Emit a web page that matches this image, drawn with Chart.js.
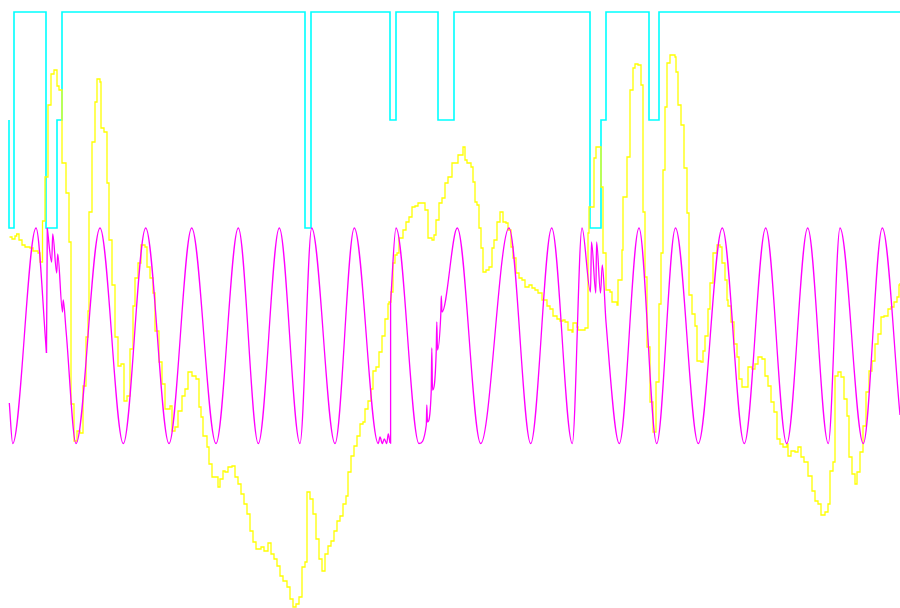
<!DOCTYPE html>
<html>
<head>
<meta charset="utf-8">
<script src="https://cdn.jsdelivr.net/npm/chart.js@4/dist/chart.umd.min.js"></script>
<style>
  html, body { margin: 0; padding: 0; background: #ffffff; }
  #chart { display: block; }
</style>
</head>
<body>
<canvas id="chart" width="900" height="608"></canvas>
<script>
// cyan step trace: switch positions and the level held after each switch
const cyanT     = [9, 9, 14, 46, 57, 62, 305, 311, 390, 396, 438, 454, 590, 601, 606, 649, 659, 900];
const cyanLevel = [120, 228, 12, 228, 120, 12, 228, 12, 120, 12, 120, 12, 228, 120, 12, 120, 12, 12];

// yellow noisy staircase
const yelX = [9.5, 12, 15, 16.7, 19, 22, 25, 30, 33, 38, 40, 42.5, 45, 48, 51, 54, 57, 59, 62, 66, 69, 71, 74, 77, 80, 83, 86, 88,
  89, 92, 95, 97, 100, 101, 104, 107, 109, 112, 115, 118, 121, 124, 127, 130, 133, 135, 138, 141, 145, 147, 150, 153, 155, 159,
  162, 165, 170, 172, 175, 178, 182, 185, 188, 192, 196, 199, 201, 203, 207, 209, 212, 215, 218, 220, 223, 225, 228, 232, 235,
  238, 241, 244, 247, 250, 253, 256, 261, 264, 268, 271, 274, 277, 280, 283, 287, 290, 293, 296, 299, 302, 305, 307, 310, 313,
  316, 319, 322, 325, 328, 331, 334, 337, 340, 343, 346, 348, 351, 354, 357, 360, 363, 365, 368, 371, 373, 376, 379, 382, 385,
  388, 389, 391, 393, 395, 397, 399, 401, 403, 406, 409, 412, 415, 418, 421, 425, 428, 432, 434, 436, 439, 442, 445, 448, 450,
  452, 456, 458, 461, 463, 465, 467, 471, 473, 475, 477, 479, 481, 483, 486, 489, 492, 494, 497, 500, 503, 506, 508, 511, 513,
  516, 519, 522, 525, 529, 532, 535, 538, 542, 547, 550, 553, 557, 560, 563, 565, 568, 572, 573, 577, 578, 585, 588, 589, 591,
  594, 596, 599, 601, 603, 606, 610, 612, 617, 618, 622, 623, 627, 630, 633, 635, 638, 641, 643, 645, 647, 650, 653, 656, 659,
  661, 663, 665, 667, 670, 675, 676, 678, 681, 684, 687, 689, 692, 695, 697, 701, 703, 705, 708, 710, 713, 717, 720, 722, 725,
  727, 728, 731, 734, 737, 739, 742, 745, 748, 752, 755, 758, 762, 765, 768, 771, 774, 777, 780, 783, 787, 788, 791, 795, 798,
  801, 804, 808, 812, 815, 818, 821, 825, 828, 830, 833, 835, 838, 841, 844, 847, 849, 852, 855, 857, 860, 863, 866, 869, 872,
  875, 878, 881, 884, 888, 891, 894, 897, 899, 900];
const yelY = [237, 239, 236, 234, 240, 245, 247, 248, 251, 253, 262, 221, 177, 105, 74, 70, 86, 90, 163, 193, 242, 404, 441, 431, 433, 386, 337, 311,
  212, 142, 102, 79, 82, 128, 132, 183, 240, 285, 337, 366, 364, 401, 396, 349, 306, 278, 263, 245, 247, 267, 278, 293, 331, 362,
  384, 409, 406, 431, 427, 411, 396, 389, 372, 376, 379, 407, 417, 436, 447, 464, 477, 477, 487, 479, 471, 472, 467, 466, 477,
  484, 494, 504, 514, 531, 542, 549, 547, 551, 543, 554, 559, 566, 576, 581, 587, 599, 607, 604, 597, 567, 562, 492, 499, 514,
  539, 559, 571, 554, 546, 541, 531, 521, 516, 504, 496, 472, 456, 446, 436, 424, 422, 409, 401, 389, 371, 367, 352, 336, 319,
  304, 302, 292, 263, 255, 253, 238, 238, 230, 222, 217, 207, 206, 203, 203, 210, 238, 240, 235, 220, 203, 198, 183, 177, 177,
  163, 163, 155, 155, 147, 160, 163, 167, 182, 202, 205, 228, 248, 272, 270, 267, 248, 240, 222, 212, 222, 223, 230, 247, 258,
  273, 278, 280, 287, 285, 288, 290, 293, 300, 306, 309, 316, 319, 321, 320, 322, 330, 332, 323, 327, 330, 328, 233, 207, 207,
  158, 147, 147, 187, 253, 290, 292, 302, 305, 280, 250, 197, 157, 90, 68, 64, 65, 85, 212, 277, 347, 402, 432, 382, 304,
  253, 170, 107, 63, 55, 57, 72, 105, 125, 168, 213, 295, 314, 326, 361, 362, 351, 336, 309, 283, 253, 245, 247, 263, 280,
  300, 306, 322, 344, 357, 379, 387, 387, 367, 369, 364, 357, 359, 376, 386, 402, 412, 439, 444, 447, 444, 456, 451, 452, 447,
  457, 462, 476, 491, 501, 504, 515, 512, 504, 471, 462, 376, 372, 377, 399, 416, 457, 474, 484, 472, 452, 426, 392, 371, 361,
  344, 334, 317, 316, 309, 307, 302, 297, 285, 283];

// magenta wave: crests / troughs and glitches, null = break where the trace jumps
const magX = [9.3, 12.7, 36, 46.5, null,
  47.3, 51.7, 52.7, 56.7, 57.7, 62.5, 63.2, 66, 76, 100, 123.3, 145.7, 169, 191.7, 216, 238.3, 258.3, 279.3, 300, 311.7, 335, 354.3,
  378.3, 380, 382.3, 384.3, 386.7, 388.3, 390, null,
  390.6, 396, 419, 426.3, 426.8, 427.5, 431.2, 431.8, 432.5, 436.2, 436.8, 437.5, 440.8, 441.3, 442, 457.3, 480.7, 509, 530.7,
  551.7, 572.3, 582, 590.5, 591.5, 595.8, 596.6, 600.5, 602.3, 606, 619.3, 639, 656.7, 675.5, 698.3, 722.3, 744.3, 765.7, 786.7,
  807.7, 828.3, 840, 863.3, 882.3, 900];
const magY = [403, 443.5, 228, 353, null,
  228, 262, 234, 273, 254, 312, 300, 330, 443.5, 228, 443.5, 228, 443.5, 228, 443.5, 228, 443.5, 228, 443.5, 228, 443.5, 228,
  443.5, 437, 443.5, 439, 443.5, 434, 443, null,
  302, 228, 443.5, 425, 405, 422, 392, 348, 390, 352, 322, 350, 314, 296, 312, 228, 443.5, 228, 443.5,
  228, 443.5, 228, 292, 242, 293, 242, 293, 265, 322, 443.5, 228, 443.5, 228, 443.5, 228, 443.5, 228, 443.5,
  228, 443.5, 228, 443.5, 228, 415];

// straight jumps of the magenta trace
const jumpX = [46.5, 47.3, null, 390, 390.6];
const jumpY = [353, 228, null, 443, 302];

function toPoints(xs, ys) {
  return xs.map((x, i) => ({ x: x === null ? xs[i - 1] + 0.1 : x, y: ys[i] }));
}

const ctx = document.getElementById('chart').getContext('2d');
new Chart(ctx, {
  type: 'line',
  data: {
    datasets: [
      {
        data: toPoints(magX, magY),
        borderColor: '#ff00ff',
        borderWidth: 1.3,
        cubicInterpolationMode: 'monotone',
        spanGaps: false,
        pointRadius: 0
      },
      {
        data: toPoints(jumpX, jumpY),
        borderColor: '#ff00ff',
        borderWidth: 1.3,
        tension: 0,
        spanGaps: false,
        pointRadius: 0
      },
      {
        data: toPoints(yelX, yelY),
        borderColor: '#ffff00',
        borderWidth: 1.3,
        stepped: 'before',
        pointRadius: 0
      },
      {
        data: toPoints(cyanT, cyanLevel),
        borderColor: '#00ffff',
        borderWidth: 1.6,
        stepped: 'before',
        pointRadius: 0
      }
    ]
  },
  options: {
    responsive: false,
    animation: false,
    layout: { padding: 0 },
    plugins: { legend: { display: false }, tooltip: { enabled: false } },
    scales: {
      x: { type: 'linear', min: 0, max: 900, display: false },
      y: { type: 'linear', min: 0, max: 608, reverse: true, display: false }
    }
  }
});
</script>
</body>
</html>
